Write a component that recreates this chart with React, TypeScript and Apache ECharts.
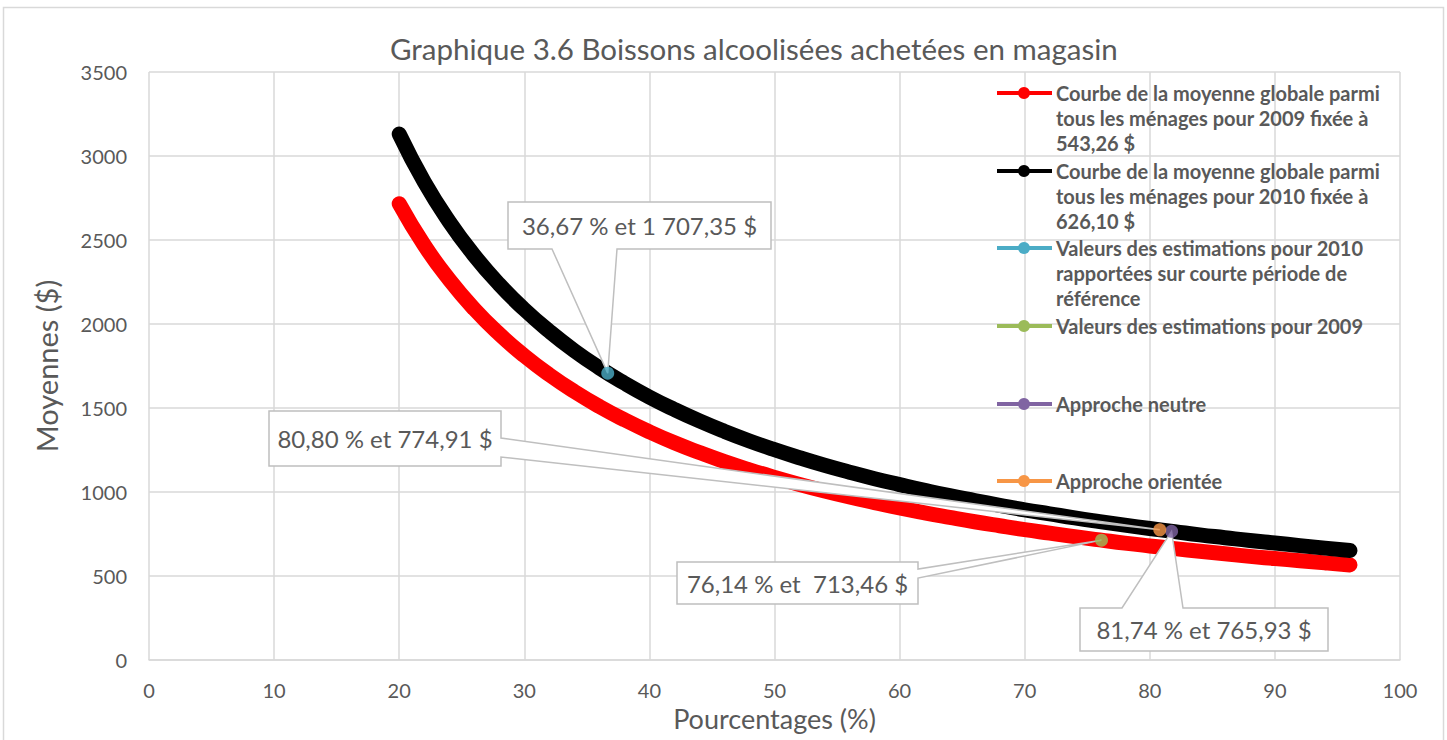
import React, { useEffect, useRef } from "react";
import * as echarts from "echarts";

// ---------- data ----------
const curvePct = [20, 22, 24, 26, 28, 30, 32, 34, 36, 38, 40, 42, 44, 46, 48, 50, 52, 54, 56, 58, 60, 62, 64, 66, 68, 70, 72, 74, 76, 78, 80, 82, 84, 86, 88, 90, 92, 94, 96];
const curve2009 = [2716, 2469, 2264, 2089, 1940, 1811, 1698, 1598, 1509, 1430, 1358, 1293, 1235, 1181, 1132, 1087, 1045, 1006, 970, 937, 905, 876, 849, 823, 799, 776, 755, 734, 715, 696, 679, 663, 647, 632, 617, 604, 591, 578, 566];
const curve2010 = [3131, 2846, 2609, 2408, 2236, 2087, 1957, 1841, 1739, 1648, 1565, 1491, 1423, 1361, 1304, 1252, 1204, 1159, 1118, 1079, 1044, 1010, 978, 949, 921, 894, 870, 846, 824, 803, 783, 764, 745, 728, 711, 696, 681, 666, 652];

const legendNames = [
  "Courbe de la moyenne globale parmi\ntous les ménages pour 2009 fixée à\n543,26 $",
  "Courbe de la moyenne globale parmi\ntous les ménages pour 2010 fixée à\n626,10 $",
  "Valeurs des estimations pour 2010\nrapportées sur courte période de\nréférence",
  "Valeurs des estimations pour 2009",
  "Approche neutre",
  "Approche orientée",
];
// estimation points (cyan, green, purple, orange)
const pointX = [36.67, 76.14, 81.74, 80.8];
const pointY = [1707.35, 713.46, 765.93, 774.91];
const pointLabels = ["36,67 % et 1 707,35 $", "76,14 % et  713,46 $", "81,74 % et 765,93 $", "80,80 % et 774,91 $"];

const titleText = "Graphique 3.6 Boissons alcoolisées achetées en magasin";
const xAxisName = "Pourcentages (%)";
const yAxisName = "Moyennes ($)";

// ---------- styles / layout ----------
const colors = ["#ff0000", "#000000", "#4bacc6", "#9bbb59", "#8064a2", "#f79646"];
const TXT = "#595959";
const GRID = "#d9d9d9";
const FONT = "Lato, 'Open Sans', sans-serif";
// callout boxes: [x0, y0, x1, y1], side of the pointer, pointer base
const callouts = [
  { box: [508, 202, 771, 249], side: "bottom", base: [552, 617] },
  { box: [677, 562, 918, 604], side: "right", base: [569, 578] },
  { box: [1080, 608, 1328, 651], side: "top", base: [1122, 1183] },
  { box: [269, 411, 501, 466], side: "right", base: [438, 457] },
];
const legendY = [93, 171, 248, 326, 404, 481];

export default function App() {
  const ref = useRef<HTMLDivElement>(null);
  useEffect(() => {
    if (!ref.current) return;
    const chart = echarts.init(ref.current, null, { renderer: "svg" });
    const curveData2009 = curvePct.map((x, i) => [x, curve2009[i]]);
    const curveData2010 = curvePct.map((x, i) => [x, curve2010[i]]);
    const pointSeries = pointX.map((x, i) => ({
      type: "scatter",
      name: legendNames[i + 2],
      data: [[x, pointY[i]]],
      symbol: "circle",
      symbolSize: 13,
      itemStyle: { color: colors[i + 2] },
      z: 10,
    }));
    chart.setOption({
      animation: false,
      backgroundColor: "#ffffff",
      title: {
        text: titleText,
        left: 385,
        top: 28,
        textStyle: { color: TXT, fontSize: 29.5, fontWeight: "normal", fontFamily: FONT },
      },
      grid: { left: 149, right: 47, top: 72, bottom: 80 },
      xAxis: {
        type: "value",
        min: 0,
        max: 100,
        interval: 10,
        name: xAxisName,
        nameLocation: "middle",
        nameGap: 45,
        nameTextStyle: { color: TXT, fontSize: 27, fontFamily: FONT },
        axisLine: { show: true, lineStyle: { color: GRID, width: 1.5 } },
        axisTick: { show: false },
        axisLabel: { color: TXT, fontSize: 20, margin: 20, fontFamily: FONT },
        splitLine: { show: true, lineStyle: { color: GRID, width: 1.5 } },
      },
      yAxis: {
        type: "value",
        min: 0,
        max: 3500,
        interval: 500,
        name: yAxisName,
        nameLocation: "middle",
        nameGap: 88,
        nameRotate: 90,
        nameTextStyle: { color: TXT, fontSize: 29, fontFamily: FONT },
        axisLine: { show: false },
        axisTick: { show: false },
        axisLabel: { color: TXT, fontSize: 20, margin: 22, fontFamily: FONT, formatter: (v: number) => String(v) },
        splitLine: { show: true, lineStyle: { color: GRID, width: 1.5 } },
      },
      series: [
        {
          type: "line",
          name: legendNames[0],
          data: curveData2009,
          smooth: true,
          showSymbol: false,
          lineStyle: { color: colors[0], width: 15, cap: "round", join: "round" },
          itemStyle: { color: colors[0] },
          z: 2,
        },
        {
          type: "line",
          name: legendNames[1],
          data: curveData2010,
          smooth: true,
          showSymbol: false,
          lineStyle: { color: colors[1], width: 15, cap: "round", join: "round" },
          itemStyle: { color: colors[1] },
          z: 3,
        },
        ...pointSeries,
      ],
    });

    const graphics: any[] = [];
    // outer frame
    graphics.push({
      type: "rect",
      shape: { x: 3.5, y: 7.5, width: 1440, height: 760 },
      style: { fill: "none", stroke: GRID, lineWidth: 1.5 },
      z: 0,
      silent: true,
    });
    // legend
    legendNames.forEach((name, i) => {
      const y = legendY[i];
      graphics.push({
        type: "line",
        shape: { x1: 997, y1: y, x2: 1052, y2: y },
        style: { stroke: colors[i], lineWidth: 4 },
        z: 20,
      });
      graphics.push({
        type: "circle",
        shape: { cx: 1024, cy: y, r: 6 },
        style: { fill: colors[i] },
        z: 21,
      });
      graphics.push({
        type: "text",
        x: 1056,
        y: y - 12.5,
        style: {
          text: name,
          fill: TXT,
          font: `bold 20px ${FONT}`,
          lineHeight: 25,
          align: "left",
          verticalAlign: "top",
          textAlign: "left",
          textVerticalAlign: "top",
        },
        z: 20,
      });
    });
    // callouts
    pointX.forEach((x, i) => {
      const tip = chart.convertToPixel({ seriesIndex: i + 2 }, [x, pointY[i]]) as number[];
      const c = callouts[i];
      const [x0, y0, x1, y1] = c.box;
      const [a, b] = c.base;
      let pts: number[][];
      if (c.side === "bottom") pts = [[x0, y0], [x1, y0], [x1, y1], [b, y1], tip, [a, y1], [x0, y1]];
      else if (c.side === "right") pts = [[x0, y0], [x1, y0], [x1, a], tip, [x1, b], [x1, y1], [x0, y1]];
      else pts = [[x0, y0], [a, y0], tip, [b, y0], [x1, y0], [x1, y1], [x0, y1]];
      graphics.push({
        type: "polygon",
        shape: { points: pts },
        style: { fill: "#ffffff", stroke: "#bfbfbf", lineWidth: 1.5 },
        z: 5,
      });
      graphics.push({
        type: "text",
        x: (x0 + x1) / 2,
        y: (y0 + y1) / 2,
        style: {
          text: pointLabels[i],
          fill: TXT,
          font: `24px ${FONT}`,
          align: "center",
          verticalAlign: "middle",
          textAlign: "center",
          textVerticalAlign: "middle",
        },
        z: 6,
      });
    });
    chart.setOption({ graphic: { elements: graphics } });

    return () => chart.dispose();
  }, []);
  return <div ref={ref} style={{ position: "absolute", left: 0, top: 0, width: 1447, height: 740 }} />;
}
